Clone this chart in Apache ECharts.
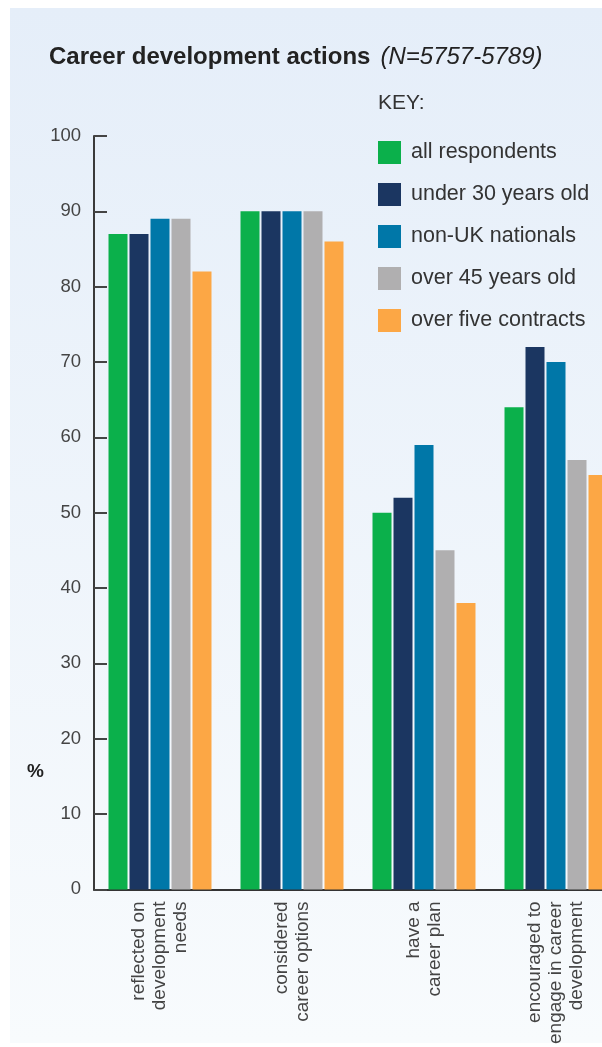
<!DOCTYPE html>
<html>
<head>
<meta charset="utf-8">
<script src="https://cdn.jsdelivr.net/npm/echarts@6/dist/echarts.min.js"></script>
<style>
html,body{margin:0;padding:0;background:#fff;overflow:hidden;width:602px;height:1047px;}
#chart{width:622px;height:1047px;}
</style>
</head>
<body>
<div id="chart"></div>
<script>
const categories = [
  'reflected on\ndevelopment\nneeds',
  'considered\ncareer options',
  'have a\ncareer plan',
  'encouraged to\nengage in career\ndevelopment'
];
const seriesNames = ['all respondents','under 30 years old','non-UK nationals','over 45 years old','over five contracts'];
const allRespondents = [87, 90, 50, 64];
const under30 = [87, 90, 52, 72];
const nonUK = [89, 90, 59, 70];
const over45 = [89, 90, 45, 57];
const overFiveContracts = [82, 86, 38, 55];
const yTicks = {min: 0, max: 100, interval: 10};

const colors = ['#0bb04b', '#1b3661', '#0077a8', '#b0afb0', '#fca745'];
const values = [allRespondents, under30, nonUK, over45, overFiveContracts];
const FONT = '"Liberation Sans", Arial, Helvetica, sans-serif';

const chart = echarts.init(document.getElementById('chart'), null, {renderer: 'canvas'});
chart.setOption({
  animation: false,
  backgroundColor: '#ffffff',
  textStyle: {fontFamily: FONT},
  graphic: [
    {
      type: 'rect', z: -10, silent: true,
      shape: {x: 10, y: 8, width: 612, height: 1035},
      style: {
        fill: new echarts.graphic.LinearGradient(0, 0, 0, 1, [
          {offset: 0, color: '#e5eef9'},
          {offset: 1, color: '#f8fbfd'}
        ])
      }
    },
    {
      type: 'text', left: 378, top: 93,
      style: {text: 'KEY:', font: '21px ' + FONT, fill: '#333'}
    },
    {
      type: 'text', left: 27, top: 762,
      style: {text: '%', font: 'bold 19px ' + FONT, fill: '#222'}
    }
  ],
  title: {
    left: 49, top: 45, padding: 0,
    text: '{b|Career development actions}  {i|(N=5757-5789)}',
    textStyle: {
      rich: {
        b: {fontFamily: FONT, fontSize: 24, fontWeight: 'bold', color: '#222'},
        i: {fontFamily: FONT, fontSize: 24, fontWeight: 'normal', fontStyle: 'italic', color: '#222'}
      }
    }
  },
  legend: {
    orient: 'vertical', left: 378, top: 141, padding: 0,
    itemWidth: 23, itemHeight: 23, itemGap: 19, icon: 'rect',
    textStyle: {fontFamily: FONT, fontSize: 21.5, color: '#333', lineHeight: 23, padding: [0, 0, 0, 5]},
    data: seriesNames
  },
  grid: {left: 94, top: 136, right: 0, bottom: 155, containLabel: false},
  xAxis: {
    type: 'category',
    data: categories,
    boundaryGap: true,
    axisLine: {lineStyle: {color: '#333', width: 2}},
    axisTick: {show: false},
    axisLabel: {
      interval: 0, rotate: 90, margin: 12,
      fontFamily: FONT, fontSize: 19, lineHeight: 21, color: '#444'
    }
  },
  yAxis: {
    type: 'value',
    min: yTicks.min, max: yTicks.max, interval: yTicks.interval,
    axisLine: {show: true, lineStyle: {color: '#3a3a3a', width: 2}},
    axisTick: {show: true, inside: true, length: 13, lineStyle: {color: '#444', width: 2}},
    axisLabel: {margin: 13, fontFamily: FONT, fontSize: 18.5, color: '#444'},
    splitLine: {show: false}
  },
  series: seriesNames.map((name, i) => ({
    name: name,
    type: 'bar',
    data: values[i],
    barWidth: 19,
    barGap: '10.5%',
    itemStyle: {color: colors[i]}
  }))
});
</script>
</body>
</html>
